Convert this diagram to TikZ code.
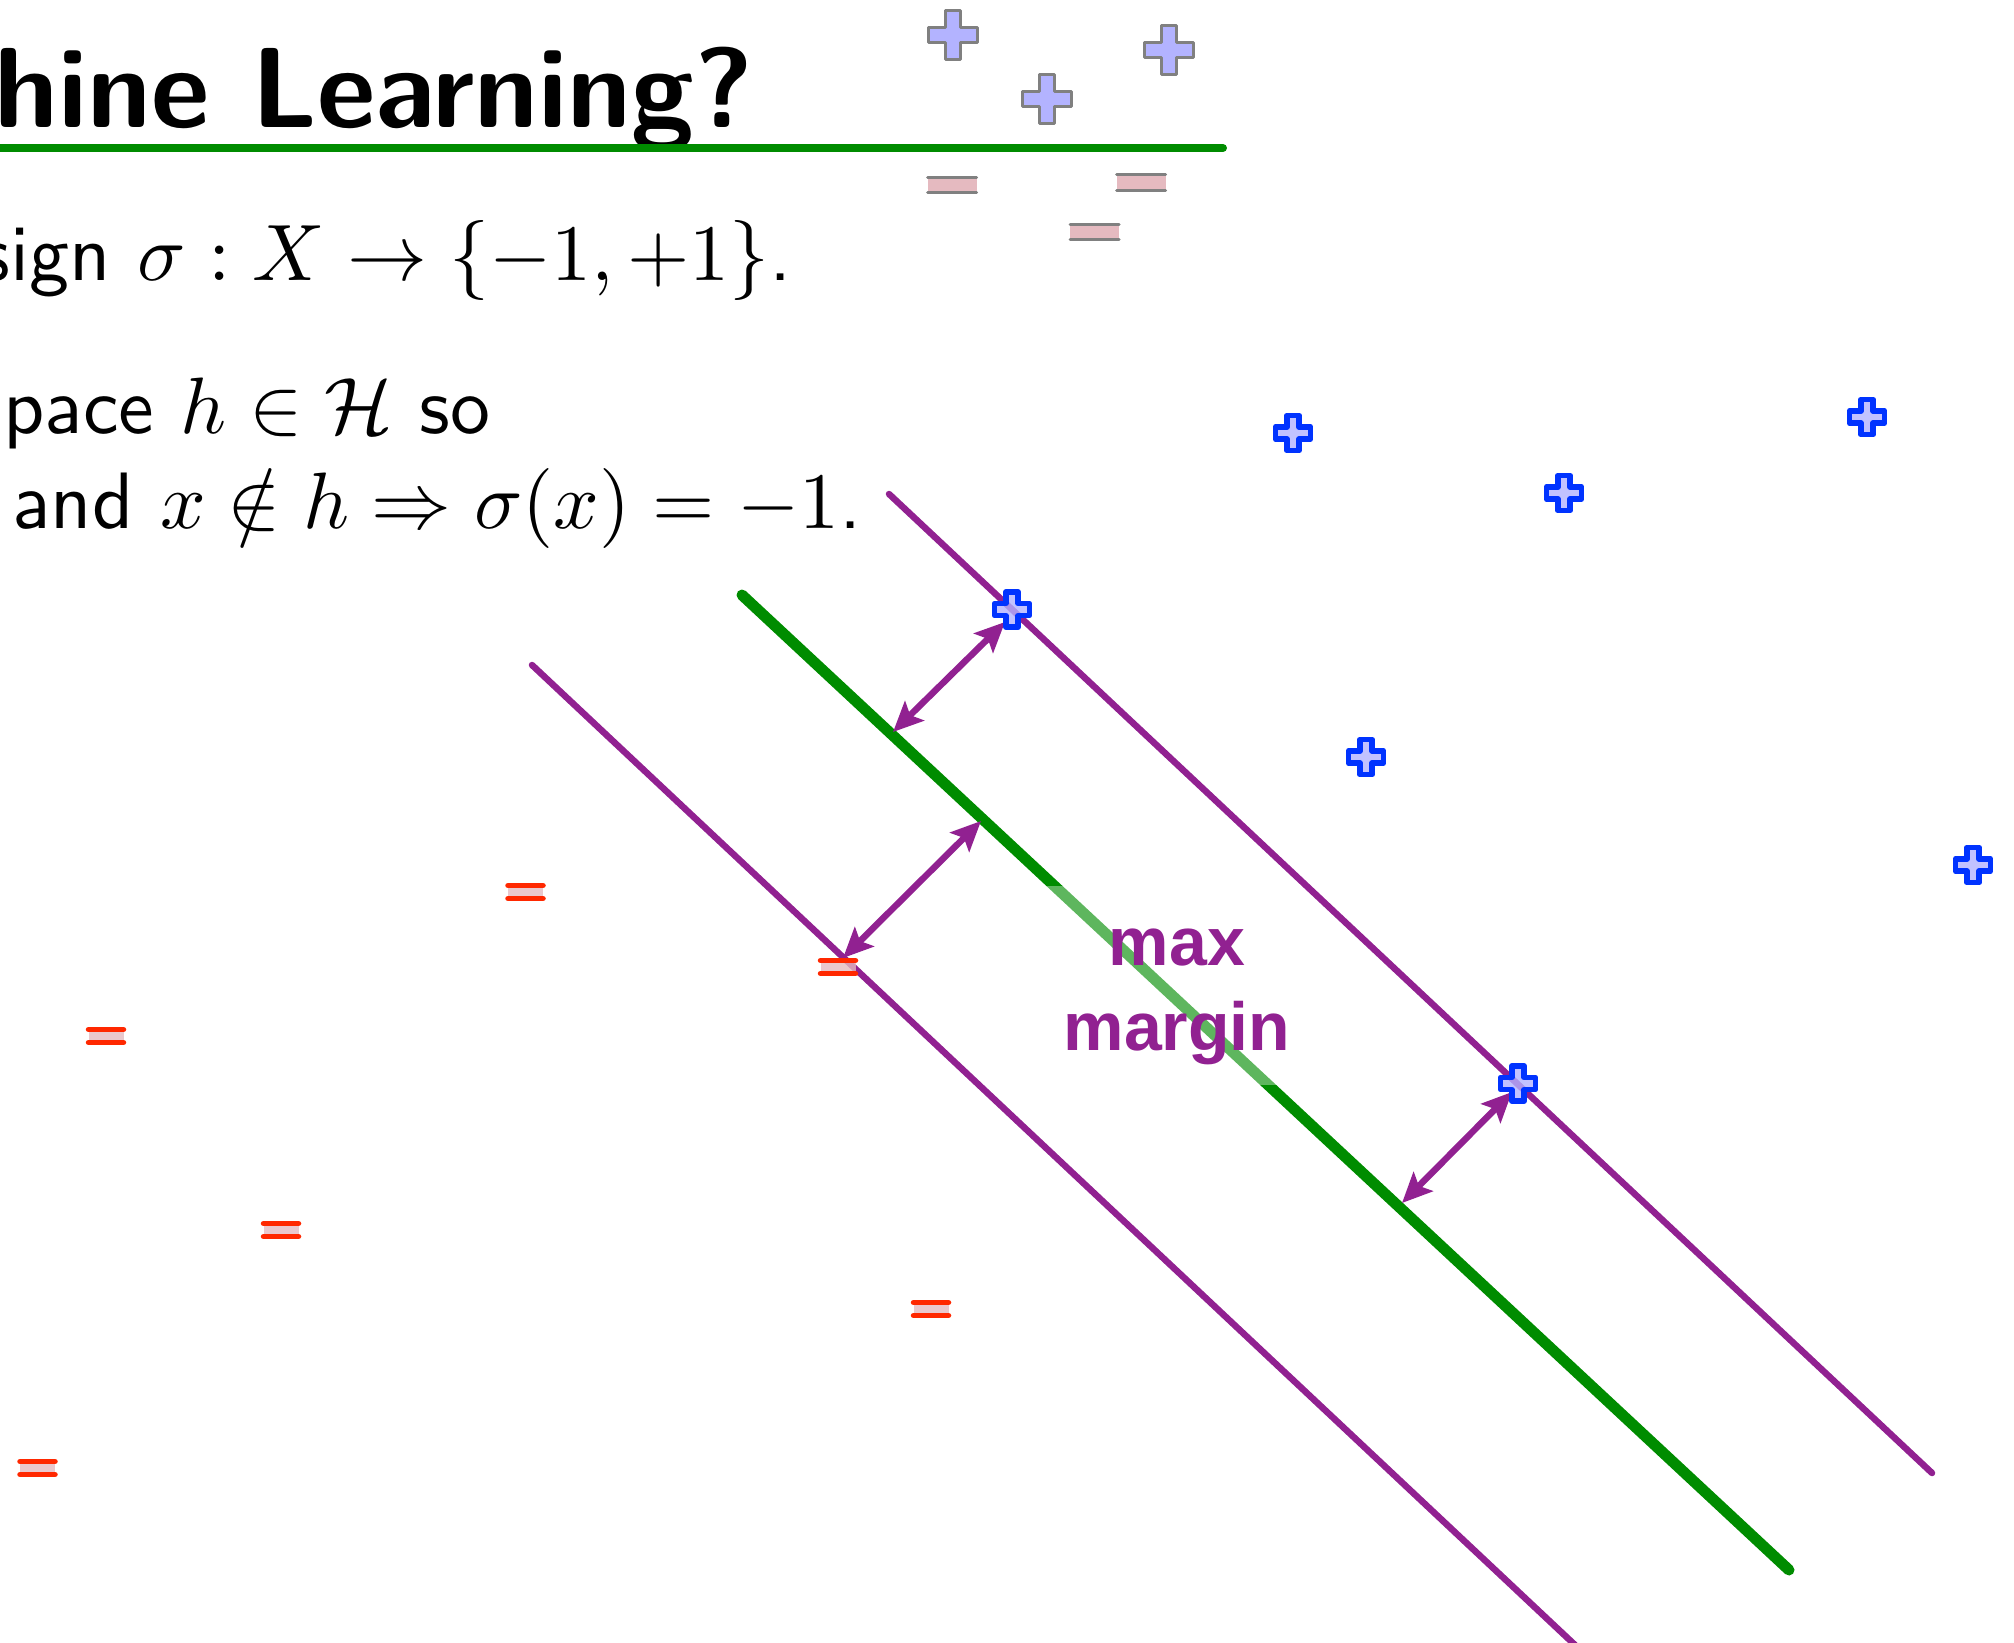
\documentclass[tikz,border=0pt]{standalone}
\usepackage[no-math]{fontspec}
\setsansfont{lmsans10-regular.otf}[BoldFont=lmsans10-bold.otf]
\newfontfamily\lsans{Liberation Sans}
\DeclareFontShape{OT1}{cmr}{m}{n}{<->cmr10}{}
\DeclareFontShape{OML}{cmm}{m}{it}{<->cmmi10}{}
\DeclareFontShape{OMS}{cmsy}{m}{n}{<->cmsy10}{}
\DeclareFontShape{OMX}{cmex}{m}{n}{<->cmex10}{}
\usetikzlibrary{arrows.meta}
\definecolor{gr}{RGB}{0,140,0}
\definecolor{pu}{RGB}{145,33,145}
\definecolor{lav}{RGB}{179,179,255}
\definecolor{bl}{RGB}{0,51,255}
\definecolor{pk}{RGB}{229,186,192}
\definecolor{rd}{RGB}{255,40,0}
\definecolor{gy}{RGB}{128,128,128}
\tikzset{
  body/.style={anchor=base west,inner sep=0pt,font=\fontsize{80}{96}\selectfont\sffamily},
  pics/gcross/.style={code={
    \filldraw[draw=gy,fill=lav,line width=3pt,line join=round]
      (-7.5,24.5)--(7.5,24.5)--(7.5,7.5)--(24.5,7.5)--(24.5,-7.5)--(7.5,-7.5)--(7.5,-24.5)
      --(-7.5,-24.5)--(-7.5,-7.5)--(-24.5,-7.5)--(-24.5,7.5)--(-7.5,7.5)--cycle;}},
  pics/gminus/.style={code={
    \fill[pk] (-24.5,-7.5) rectangle (24.5,7.5);
    \draw[gy,line width=3pt,line cap=round] (-24.5,-7.5)--(24.5,-7.5) (-24.5,7.5)--(24.5,7.5);}},
  pics/bcross/.style={code={
    \filldraw[draw=bl,fill=lav,fill opacity=0.8,draw opacity=1,line width=5.5pt,line join=round]
      (-6.1,17.6)--(6.1,17.6)--(6.1,6.1)--(17.6,6.1)--(17.6,-6.1)--(6.1,-6.1)--(6.1,-17.6)
      --(-6.1,-17.6)--(-6.1,-6.1)--(-17.6,-6.1)--(-17.6,6.1)--(-6.1,6.1)--cycle;}},
  pics/rminus/.style={code={
    \fill[pk,fill opacity=0.8] (-17.5,-6.5) rectangle (17.5,6.5);
    \draw[rd,line width=5.5pt,line cap=round] (-17.5,-6.5)--(17.5,-6.5) (-17.5,6.5)--(17.5,6.5);}},
  purpleline/.style={pu,line width=6.5pt,line cap=round},
  marginarrow/.style={pu,line width=6.5pt,{Stealth[length=30pt,width=27pt,inset=6pt]}-{Stealth[length=30pt,width=27pt,inset=6pt]}}
}
\begin{document}
\begin{tikzpicture}[x=1pt,y=-1pt]
\useasboundingbox (0,0) rectangle (2014,1643);
% title and rule
\node[anchor=base west,inner sep=0pt,font=\fontsize{114}{134}\selectfont\sffamily\bfseries] (title) at (-6,128) {hine Learning?};
\coordinate (r0) at (-10,148);
\coordinate (r1) at (1223,148);
\draw[gr,line width=8pt,line cap=round] (r0)--(r1);
% body text
\node[body,anchor=base east] (l1) at (792,280) {sign $\sigma : X \to \{-1,+1\}$.};
\node[body] (l2) at (3,433) {pace $h \in \mathcal{H}$ so};
\node[body] (l3) at (12,528) {and $x \notin h \Rightarrow \sigma(x) = -1$.};
% top legend markers
\coordinate (tp1) at (953,35);
\coordinate (tp2) at (1046.5,99.5);
\coordinate (tp3) at (1169,50);
\coordinate (tm1) at (952,185);
\coordinate (tm2) at (1141,182.5);
\coordinate (tm3) at (1094.5,231.5);
\pic at (tp1) {gcross};
\pic at (tp2) {gcross};
\pic at (tp3) {gcross};
\pic at (tm1) {gminus};
\pic at (tm2) {gminus};
\pic at (tm3) {gminus};
% lines
\coordinate (u0) at (889,494);
\coordinate (u1) at (1932,1473);
\coordinate (w0) at (532,665);
\coordinate (w1) at (1575,1645);
\coordinate (g0) at (742,595);
\coordinate (g1) at (1789,1570);
\draw[purpleline] (u0)--(u1);
\draw[purpleline] (w0)--(w1);
\draw[gr,line width=11pt,line cap=round] (g0)--(g1);
% veil and label
\node[fill=white,fill opacity=0.37,inner sep=0pt,minimum width=262pt,minimum height=199pt] (veil) at (1171,985.5) {};
\node[align=center,inner sep=0pt,text=pu,font=\lsans\bfseries\fontsize{68}{85}\selectfont] (lab) at (1177,997) {max\\margin};
% arrows
\coordinate (a1a) at (1005,622);
\coordinate (a1b) at (893,732);
\coordinate (a2a) at (981,821);
\coordinate (a2b) at (843,958);
\coordinate (a3a) at (1512,1092);
\coordinate (a3b) at (1402,1203);
\draw[marginarrow] (a1a)--(a1b);
\draw[marginarrow] (a2a)--(a2b);
\draw[marginarrow] (a3a)--(a3b);
% data points
\coordinate (bp1) at (1293,433);
\coordinate (bp2) at (1867,417);
\coordinate (bp3) at (1564,493);
\coordinate (bp4) at (1012,609.5);
\coordinate (bp5) at (1366,757);
\coordinate (bp6) at (1973,865);
\coordinate (bp7) at (1518,1083.5);
\foreach \p in {bp1,bp2,bp3,bp4,bp5,bp6,bp7} {\pic at (\p) {bcross};}
\coordinate (rm1) at (525.5,892);
\coordinate (rm2) at (106,1036);
\coordinate (rm3) at (281,1230);
\coordinate (rm4) at (37.5,1468);
\coordinate (rm5) at (931,1309);
\coordinate (rm6) at (838,967);
\foreach \p in {rm1,rm2,rm3,rm4,rm5,rm6} {\pic at (\p) {rminus};}
\end{tikzpicture}
\end{document}
